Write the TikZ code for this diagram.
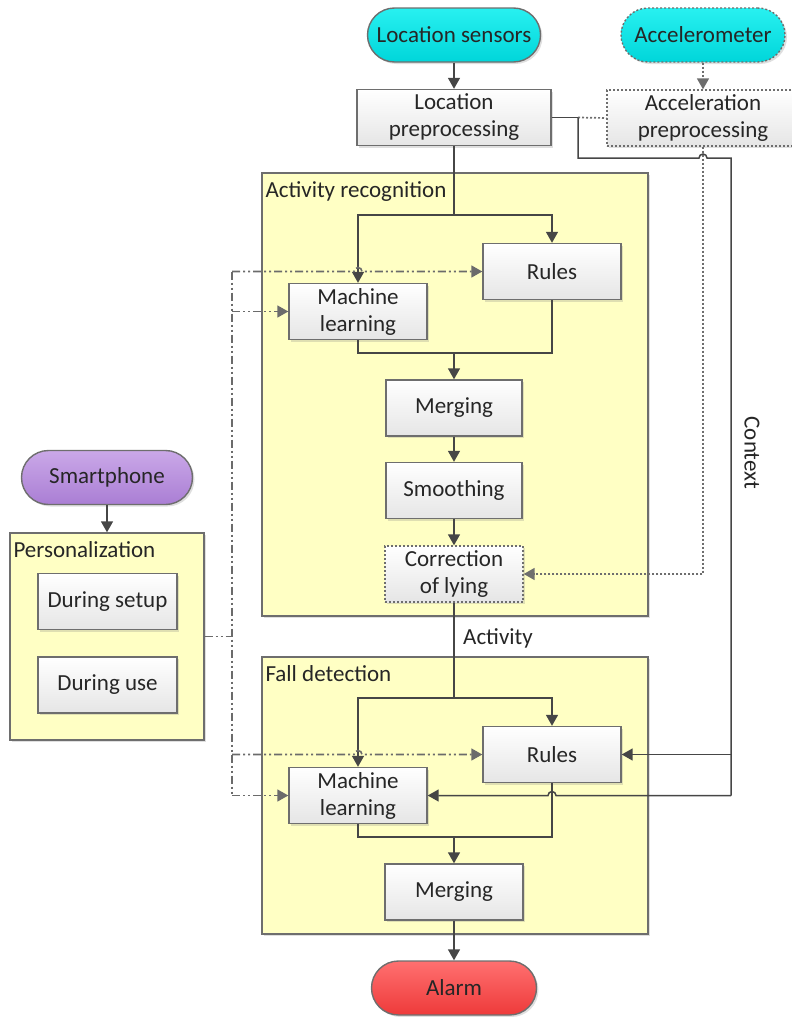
\documentclass[tikz,border=0pt]{standalone}
\usepackage{fontspec}
\setmainfont{Carlito}
\usetikzlibrary{arrows.meta, positioning, shadows, calc}

\definecolor{cyantop}{RGB}{40,240,240}
\definecolor{cyanbot}{RGB}{0,214,218}
\definecolor{purptop}{RGB}{202,168,232}
\definecolor{purpbot}{RGB}{170,126,212}
\definecolor{redtop}{RGB}{255,112,112}
\definecolor{redbot}{RGB}{238,58,58}
\definecolor{groupfill}{RGB}{255,255,196}
\definecolor{edge}{RGB}{110,110,110}
\definecolor{wire}{RGB}{70,70,70}

\begin{document}
\begin{tikzpicture}[x=1pt, y=-1pt,
    every node/.style={font=\fontsize{23}{27}\selectfont, text=black!85},
    >={Triangle[length=11pt, width=12pt]},
    shade/.style={drop shadow={opacity=0.25, shadow xshift=2pt, shadow yshift=-2pt}},
    box/.style={draw=edge, line width=1.4pt, top color=white, bottom color=black!10, shade,
        minimum width=138pt, minimum height=56pt, align=center, inner sep=2pt},
    dotbox/.style={box, dash pattern=on 2pt off 2pt},
    pill/.style={draw=edge, line width=1.4pt, rounded corners=27pt, shade,
        minimum height=54pt, inner sep=2pt},
    group/.style={draw=edge, line width=1.4pt, fill=groupfill, shade},
    grouptitle/.style={anchor=north west, inner sep=4pt, yshift=-5pt},
    link/.style={draw=wire, line width=1.5pt},
    dlink/.style={draw=edge, line width=1.7pt, dash pattern=on 2pt off 2pt},
    plink/.style={draw=wire!80, line width=1.6pt, dash pattern=on 8pt off 3pt on 2pt off 3pt on 2pt off 3pt}
]
    \useasboundingbox (0,0) rectangle (792,1017);

    % Groups
    \node[group, minimum width=386pt, minimum height=443pt] (ar) at (455,394.5) {};
    \node[grouptitle] (artitle) at (ar.north west) {Activity recognition};
    \node[group, minimum width=386pt, minimum height=277pt] (fd) at (455,795.5) {};
    \node[grouptitle] (fdtitle) at (fd.north west) {Fall detection};
    \node[group, minimum width=194pt, minimum height=207pt] (pers) at (107,636.5) {};
    \node[grouptitle] (perstitle) at (pers.north west) {Personalization};

    % Sensors and preprocessing
    \node[pill, top color=cyantop, bottom color=cyanbot, minimum width=173pt] (locsens) at (454,35) {Location sensors};
    \node[pill, top color=cyantop, bottom color=cyanbot, minimum width=164pt, dash pattern=on 2pt off 2pt] (accel) at (703,35) {Accelerometer};
    \node[box, minimum width=194pt] (locpre) at (454,117.5) {Location\\preprocessing};
    \node[dotbox, minimum width=192pt] (accpre) at (703,118) {Acceleration\\preprocessing};

    % Activity recognition
    \node[box] (rules1) at (552,271.5) {Rules};
    \node[box] (ml1) at (358,311.5) {Machine\\learning};
    \node[box, minimum width=136pt] (merge1) at (454,408) {Merging};
    \node[box, minimum width=136pt] (smooth1) at (454,490.5) {Smoothing};
    \node[dotbox] (corr) at (454,574) {Correction\\of lying};

    % Fall detection
    \node[box] (rules2) at (552,754.5) {Rules};
    \node[box] (ml2) at (358,795.5) {Machine\\learning};
    \node[box] (merge2) at (454,892) {Merging};
    \node[pill, top color=redtop, bottom color=redbot, minimum width=165pt] (alarm) at (454,988) {Alarm};

    % Personalization
    \node[pill, top color=purptop, bottom color=purpbot, minimum width=171pt] (phone) at (107,477.5) {Smartphone};
    \node[box, minimum width=139pt] (setup) at (107.5,601.5) {During setup};
    \node[box, minimum width=139pt] (use) at (107.5,685) {During use};

    % Labels
    \node (actlabel) at (498,638) {Activity};
    \node[rotate=-90] (ctxlabel) at (752,453) {Context};

    % Junctions
    \coordinate (csplit) at (578,117.5);
    \coordinate (ctxtop) at (731,158);
    \coordinate (ctxbot) at (731,795.5);
    \coordinate (split1) at (454,215);
    \coordinate (join1) at (454,353);
    \coordinate (split2) at (454,698);
    \coordinate (join2) at (454,837);
    \coordinate (pbus) at (232,636.5);

    % Sensor links
    \draw[link, ->] (locsens) -- (locpre);
    \draw[dlink, ->] (accel) -- (accpre);
    \draw[link] (locpre.east) -- (csplit);
    \draw[dlink] (csplit) -- (accpre.west);
    \draw[dlink, ->] (accpre.south) |- (corr.east);

    % Context
    \draw[link] (csplit) |- ($(accpre.south |- ctxtop)+(-4,0)$)
        arc[start angle=180, end angle=0, radius=4pt] -- (ctxtop) -- (ctxbot);
    \draw[link, ->] (ctxbot) -- ($(rules2.south |- ctxbot)+(4,0)$)
        arc[start angle=0, end angle=180, radius=4pt] -- (ml2.east);
    \draw[link, ->] (ctxtop |- rules2.east) -- (rules2.east);

    % Activity recognition links
    \draw[link] (locpre) -- (split1);
    \draw[link, ->] (split1) -| (ml1.north);
    \draw[link, ->] (split1) -| (rules1.north);
    \draw[link] (ml1.south) |- (join1) -| (rules1.south);
    \draw[link, ->] (join1) -- (merge1);
    \draw[link, ->] (merge1) -- (smooth1);
    \draw[link, ->] (smooth1) -- (corr);

    % Fall detection links
    \draw[link] (corr) -- (split2);
    \draw[link, ->] (split2) -| (ml2.north);
    \draw[link, ->] (split2) -| (rules2.north);
    \draw[link] (ml2.south) |- (join2) -| (rules2.south);
    \draw[link, ->] (join2) -- (merge2);
    \draw[link, ->] (merge2) -- (alarm);

    % Personalization links
    \draw[link, ->] (phone) -- (pers.north -| phone);
    \draw[plink] (pers.east) -- (pbus);
    \draw[plink] (pbus |- rules1.west) -- (pbus |- ml2.west);
    \draw[plink, ->] (pbus |- rules1.west) -- ($(ml1.north |- rules1.west)+(-4,0)$)
        arc[start angle=180, end angle=0, radius=4pt] -- (rules1.west);
    \draw[plink, ->] (pbus |- ml1.west) -- (ml1.west);
    \draw[plink, ->] (pbus |- rules2.west) -- ($(ml2.north |- rules2.west)+(-4,0)$)
        arc[start angle=180, end angle=0, radius=4pt] -- (rules2.west);
    \draw[plink, ->] (pbus |- ml2.west) -- (ml2.west);
\end{tikzpicture}
\end{document}
